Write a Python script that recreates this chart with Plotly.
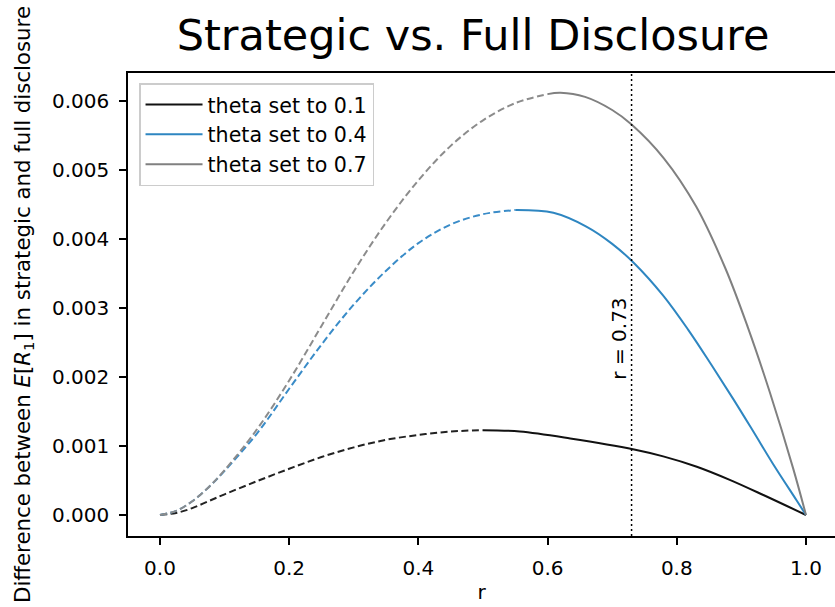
import plotly.graph_objects as go

# r values and differences in E[R1] (strategic minus full disclosure)
# dashed part = region before the curve turns, solid part = region after it

# theta = 0.1
r_dash_01 = [0.0, 0.025, 0.05, 0.075, 0.10, 0.15, 0.20, 0.25, 0.30, 0.35, 0.40, 0.45, 0.50]
v_dash_01 = [0.0, 0.00003, 0.00010, 0.00020, 0.00030, 0.00049, 0.00067, 0.00084, 0.00098, 0.00109, 0.00116, 0.00121, 0.00123]
r_solid_01 = [0.50, 0.557, 0.635, 0.734, 0.779, 0.831, 0.882, 0.934, 1.0]
v_solid_01 = [0.00123, 0.00121, 0.00111, 0.00095, 0.00085, 0.00070, 0.00051, 0.00029, 0.0]

# theta = 0.4
r_dash_04 = [0.0, 0.025, 0.05, 0.075, 0.10, 0.15, 0.20, 0.25, 0.30, 0.35, 0.40, 0.45, 0.50, 0.55]
v_dash_04 = [0.0, 0.00006, 0.00020, 0.00040, 0.00064, 0.00118, 0.00183, 0.00247, 0.00305, 0.00354, 0.00394, 0.00421, 0.00436, 0.00442]
r_solid_04 = [0.55, 0.609, 0.66, 0.70, 0.734, 0.779, 0.818, 0.854, 0.8875, 0.9185, 0.949, 0.9856, 1.0]
v_solid_04 = [0.00442, 0.00438, 0.00418, 0.00393, 0.00365, 0.00318, 0.00268, 0.00217, 0.00168, 0.00121, 0.00074, 0.00021, 0.0]

# theta = 0.7
r_dash_07 = [0.0, 0.025, 0.05, 0.075, 0.10, 0.15, 0.20, 0.25, 0.30, 0.35, 0.40, 0.45, 0.50, 0.55, 0.60]
v_dash_07 = [0.0, 0.00006, 0.00020, 0.00040, 0.00065, 0.00124, 0.00195, 0.00274, 0.00353, 0.00424, 0.00485, 0.00535, 0.00572, 0.00597, 0.00610]
r_solid_07 = [0.60, 0.62, 0.658, 0.70, 0.73, 0.78, 0.83, 0.875, 0.91, 0.944, 0.98, 1.0]
v_solid_07 = [0.00610, 0.00612, 0.00606, 0.00587, 0.00566, 0.00517, 0.00447, 0.00358, 0.00272, 0.00178, 0.00068, 0.0]

legend_labels = ["theta set to 0.1", "theta set to 0.4", "theta set to 0.7"]
r_marker = 0.73

y_ticks = [0.000, 0.001, 0.002, 0.003, 0.004, 0.005, 0.006]
x_ticks = [0.0, 0.2, 0.4, 0.6, 0.8, 1.0]

FONT = "DejaVu Sans"
solid_colors = ["#111111", "#2e86c1", "#808080"]
dash_colors = ["#222222", "#3a8cc8", "#8c8c8c"]

series = [
    (r_dash_01, v_dash_01, r_solid_01, v_solid_01),
    (r_dash_04, v_dash_04, r_solid_04, v_solid_04),
    (r_dash_07, v_dash_07, r_solid_07, v_solid_07),
]

fig = go.Figure()
for i, (rd, vd, rs, vs) in enumerate(series):
    fig.add_trace(go.Scatter(
        x=rs, y=vs, mode="lines", name=legend_labels[i],
        legendgroup=f"g{i}",
        line=dict(color=solid_colors[i], width=2, shape="spline", smoothing=1.0),
    ))
    fig.add_trace(go.Scatter(
        x=rd, y=vd, mode="lines", name=legend_labels[i], showlegend=False,
        legendgroup=f"g{i}",
        line=dict(color=dash_colors[i], width=2, dash="7px,3.5px", shape="spline", smoothing=1.0),
    ))

# vertical reference line at r = 0.73
fig.add_shape(type="line", x0=r_marker, x1=r_marker, y0=0, y1=1,
              xref="x", yref="paper",
              line=dict(color="black", width=1.5, dash="2px,3px"))
fig.add_annotation(x=r_marker, y=0.00255, xref="x", yref="y",
                   text=f"r = {r_marker}", textangle=-90, showarrow=False,
                   xanchor="center", yanchor="middle", xshift=-13,
                   font=dict(family=FONT, size=20, color="black"))

fig.update_layout(
    width=835, height=607,
    margin=dict(l=128, r=0, t=73, b=71),
    paper_bgcolor="white", plot_bgcolor="white",
    font=dict(family=FONT, size=20, color="black"),
    title=dict(text="Strategic vs. Full Disclosure", xref="container", x=0.5665,
               xanchor="center", yref="container", y=0.943, yanchor="middle",
               font=dict(family=FONT, size=43, color="black")),
    showlegend=True,
    legend=dict(x=0.0156, y=0.978, xanchor="left", yanchor="top",
                bgcolor="rgba(255,255,255,0.8)", bordercolor="#cccccc", borderwidth=1.5,
                font=dict(family=FONT, size=20.6, color="black"),
                tracegroupgap=0, itemwidth=57),
    xaxis=dict(range=[-0.0495, 1.0449], tickvals=x_ticks, tickformat=".1f",
               showgrid=False, zeroline=False, showline=True, linecolor="black",
               linewidth=1.5, mirror=True, ticks="outside", ticklen=7, tickwidth=1.5,
               tickcolor="black", ticklabelstandoff=6,
               title=dict(text="r", standoff=6, font=dict(family=FONT, size=20))),
    yaxis=dict(range=[-0.000304, 0.006406], tickvals=y_ticks, tickformat=".3f",
               showgrid=False, zeroline=False, showline=True, linecolor="black",
               linewidth=1.5, mirror=False, ticks="outside", ticklen=7, tickwidth=1.5,
               tickcolor="black", ticklabelstandoff=6,
               title=dict(text="Difference between <i>E</i>[<i>R</i><sub>1</sub>] in strategic and full disclosure",
                          standoff=16, font=dict(family=FONT, size=21.3))),
)

fig.write_html("out.html")
